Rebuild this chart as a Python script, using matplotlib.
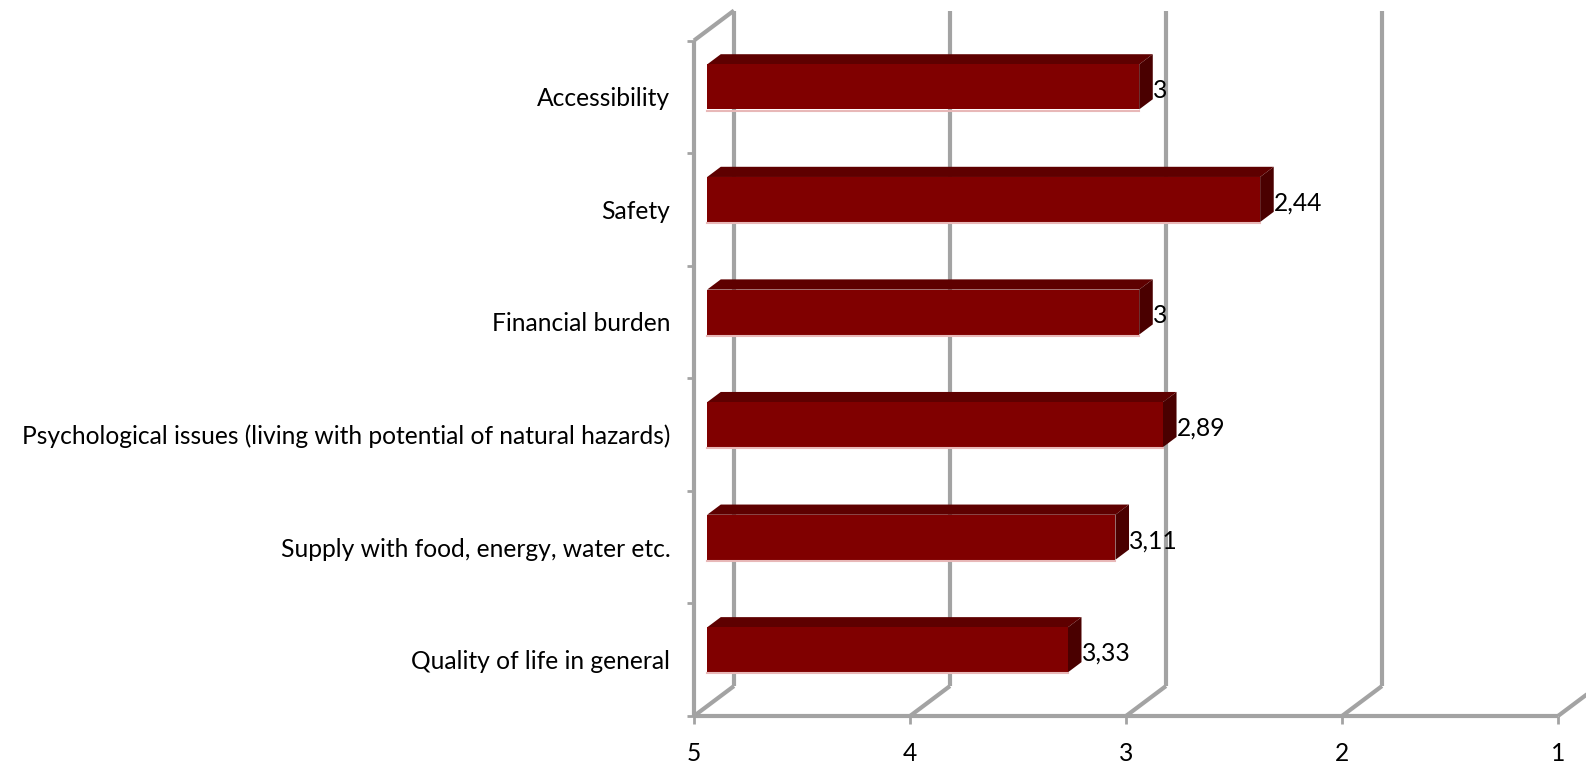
import matplotlib.pyplot as plt
from matplotlib.patches import Polygon

plt.rcParams['font.family'] = ['Lato', 'DejaVu Sans']

# survey items, bottom to top, with mean scores
categories = ["Quality of life in general",
              "Supply with food, energy, water etc.",
              "Psychological issues (living with potential of natural hazards)",
              "Financial burden",
              "Safety",
              "Accessibility"]
scores = [3.33, 3.11, 2.89, 3, 2.44, 3]
xticks = [5, 4, 3, 2, 1]

# fake 3d: depth shift of the back wall in data units
DX = 0.185
DY = 0.266
D0, D1 = 0.33, 0.67
HALF = 0.2
FS = 17.7

def proj(x, y, d):
    return (x - d * DX, y + d * DY)

fig = plt.figure(figsize=(15.86, 7.64), dpi=100)
ax = fig.add_axes([694 / 1586, 48 / 764, 864 / 1586, 675.5 / 764])
ax.set_xlim(5, 1)
ax.set_ylim(0, 6)
for s in ax.spines.values():
    s.set_visible(False)

grid_kw = dict(color='#a3a3a3', lw=3, clip_on=False, solid_capstyle='butt')

# walls and floor
for v in xticks:
    p0, p1 = proj(v, 0, 0), proj(v, 0, 1)
    ax.plot([p0[0], p1[0]], [p0[1], p1[1]], zorder=1, **grid_kw)
    p2 = proj(v, 6, 1)
    ax.plot([p1[0], p2[0]], [p1[1], p2[1]], zorder=1, **grid_kw)
ax.plot([5, 1], [0, 0], zorder=3, **grid_kw)
ax.plot([5, 5], [0, 6], zorder=3, **grid_kw)
a, b = proj(5, 6, 0), proj(5, 6, 1)
ax.plot([a[0], b[0]], [a[1], b[1]], zorder=3, **grid_kw)

# 3d bars
for i, v in enumerate(scores):
    c = i + 0.5
    lo, hi = c - HALF, c + HALF
    front = [proj(5, lo, D0), proj(v, lo, D0), proj(v, hi, D0), proj(5, hi, D0)]
    top = [proj(5, hi, D0), proj(v, hi, D0), proj(v, hi, D1), proj(5, hi, D1)]
    side = [proj(v, lo, D0), proj(v, lo, D1), proj(v, hi, D1), proj(v, hi, D0)]
    ax.add_patch(Polygon(top, closed=True, fc='#5e0000', ec='none', zorder=4, clip_on=False))
    ax.add_patch(Polygon(side, closed=True, fc='#4a0000', ec='none', zorder=4, clip_on=False))
    ax.add_patch(Polygon(front, closed=True, fc='#800000', ec='none', zorder=5, clip_on=False))
    ax.plot([front[0][0], front[1][0]], [front[0][1] - 0.01, front[1][1] - 0.01],
            color='#e8b8b8', lw=1.5, zorder=5, clip_on=False)
    lx, ly = proj(v, c, D1)
    ax.text(lx, c + D0 * DY - 0.03, f"{v:g}".replace('.', ','), ha='left', va='center',
            fontsize=FS, color='black', zorder=6)

ax.set_xticks(xticks)
ax.set_xticklabels([str(t) for t in xticks], fontsize=FS)
ax.tick_params(axis='x', length=6, width=2, color='#a3a3a3', pad=13)
ax.set_yticks([i + 0.5 for i in range(len(categories))])
ax.set_yticklabels(categories, fontsize=FS)
ax.tick_params(axis='y', which='major', length=0, pad=17)
ax.set_yticks(range(7), minor=True)
ax.tick_params(axis='y', which='minor', length=5, width=2, color='#a3a3a3')

fig.savefig('out.png', dpi=100)
